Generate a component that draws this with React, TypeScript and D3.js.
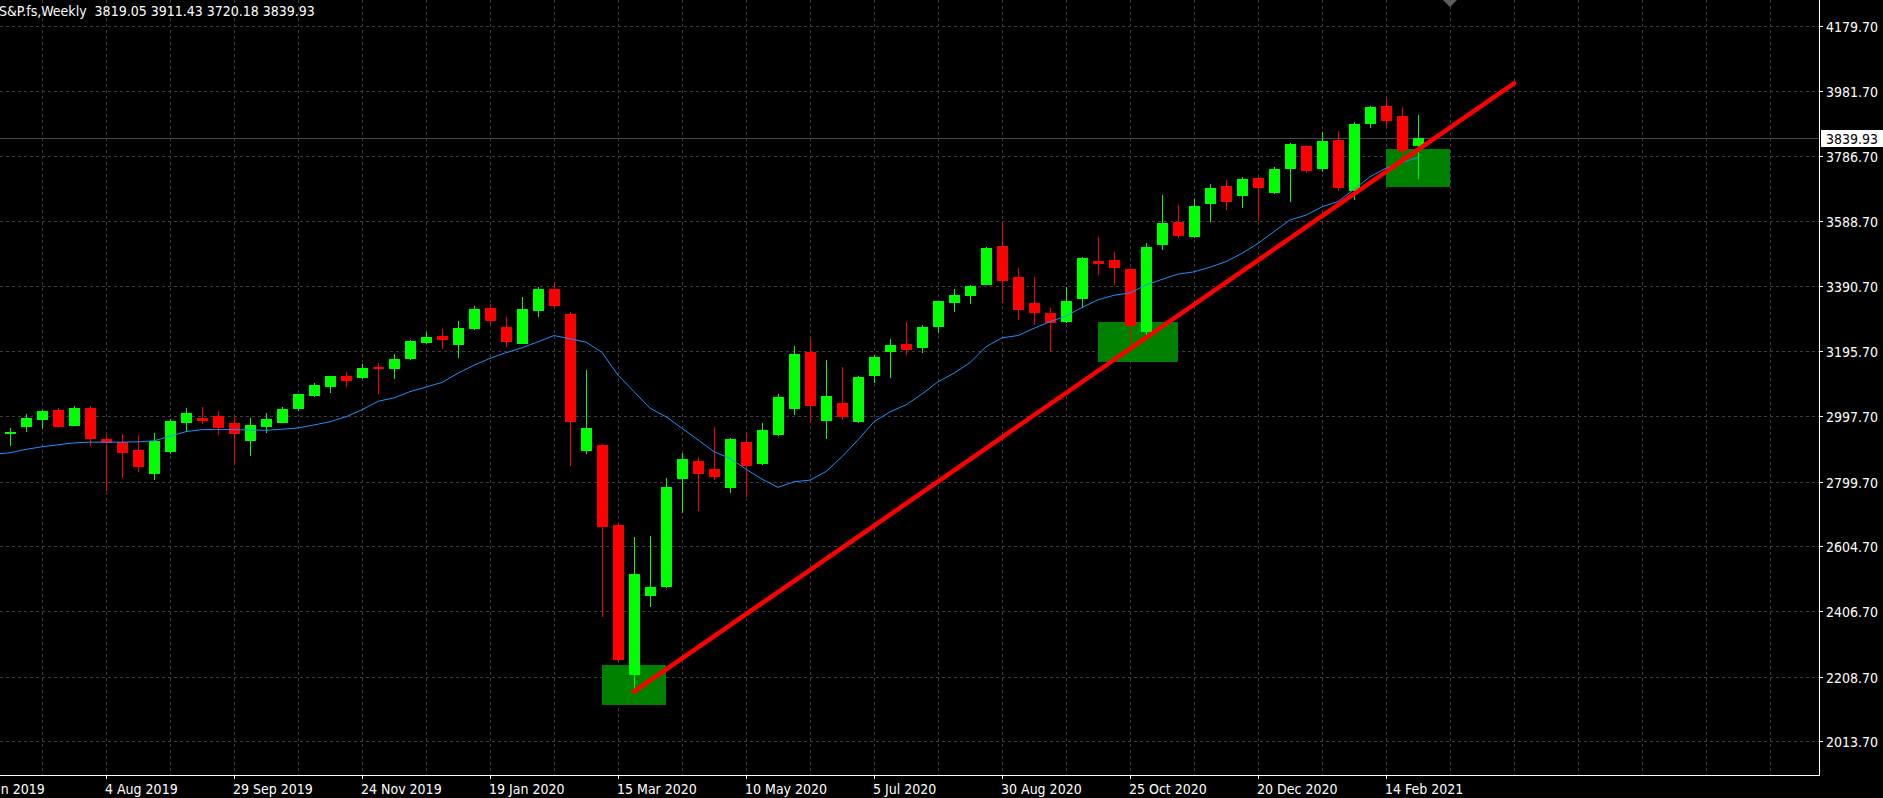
import React from "react";
import * as d3 from "d3";

// ---------- data ----------
const symbolTitle = "S&P.fs,Weekly";
const lastQuote = [3819.05, 3911.43, 3720.18, 3839.93]; // O H L C of the last bar

const firstWeek = "23 Jun 2019";
const lastWeek = "28 Feb 2021";

const opens = [
  2948, 2969, 2989, 3016, 2972, 3022, 2929, 2920, 2895, 2826,
  2892, 2981, 2992, 2998, 2977, 2926, 2968, 2980, 3022, 3062,
  3089, 3119, 3116, 3147, 3144, 3174, 3222, 3241, 3216, 3265,
  3325, 3268, 3219, 3319, 3383, 3308, 2895, 2910, 2668, 2217,
  2456, 2482, 2811, 2862, 2838, 2783, 2920, 2856, 2944, 3022,
  3193, 2986, 3038, 2983, 3122, 3195, 3216, 3207, 3271, 3344,
  3365, 3398, 3513, 3419, 3341, 3310, 3286, 3356, 3468, 3471,
  3444, 3256, 3519, 3586, 3544, 3643, 3695, 3668, 3719, 3677,
  3750, 3816, 3750, 3834, 3683, 3886, 3937, 3907, 3819.05,
];
const highs = [
  2962, 3004, 3016, 3022, 3028, 3029, 2941, 2944, 2941, 2947,
  2989, 3022, 3025, 3013, 2995, 2992, 3007, 3025, 3066, 3098,
  3120, 3132, 3156, 3159, 3186, 3228, 3253, 3262, 3286, 3331,
  3338, 3298, 3359, 3389, 3400, 3312, 3138, 2912, 2670, 2632,
  2635, 2810, 2886, 2874, 2965, 2932, 2947, 2977, 3065, 3210,
  3232, 3168, 3147, 3118, 3183, 3232, 3283, 3274, 3348, 3383,
  3395, 3510, 3586, 3447, 3419, 3325, 3389, 3480, 3540, 3495,
  3445, 3522, 3668, 3637, 3656, 3701, 3713, 3722, 3721, 3753,
  3825, 3819, 3859, 3862, 3889, 3936, 3958, 3934, 3911.43,
];
const lows = [
  2910, 2953, 2963, 2966, 2970, 2911, 2774, 2814, 2833, 2808,
  2887, 2953, 2977, 2945, 2854, 2880, 2950, 2979, 3016, 3059,
  3071, 3089, 3113, 3068, 3113, 3171, 3219, 3204, 3177, 3262,
  3277, 3210, 3218, 3301, 3327, 2850, 2887, 2393, 2257, 2161,
  2424, 2480, 2708, 2714, 2807, 2769, 2755, 2854, 2942, 3004,
  2980, 2932, 2989, 2980, 3101, 3116, 3186, 3192, 3253, 3316,
  3341, 3397, 3344, 3292, 3277, 3195, 3284, 3328, 3428, 3398,
  3222, 3241, 3504, 3540, 3542, 3589, 3625, 3631, 3592, 3675,
  3650, 3737, 3740, 3683, 3656, 3874, 3877, 3783, 3720.18,
];
const closes = [
  2951, 2992, 3013, 2969, 3022, 2932, 2920, 2890, 2848, 2922,
  2983, 3007, 2987, 2965, 2947, 2971, 2989, 3019, 3065, 3092,
  3119, 3107, 3144, 3144, 3171, 3225, 3238, 3232, 3265, 3322,
  3289, 3225, 3322, 3383, 3334, 2984, 2962, 2666, 2262, 2520,
  2481, 2783, 2868, 2826, 2817, 2929, 2850, 2956, 3056, 3186,
  3032, 3059, 2998, 3116, 3177, 3213, 3201, 3268, 3347, 3365,
  3392, 3507, 3410, 3322, 3313, 3283, 3347, 3477, 3462, 3450,
  3274, 3510, 3583, 3547, 3634, 3689, 3650, 3716, 3692, 3746,
  3822, 3743, 3831, 3692, 3883, 3934, 3895, 3804, 3839.93,
];

// moving average, starting one week before the first visible bar (16 Jun 2019)
const maFirstWeek = "16 Jun 2019";
const maValues = [
  2882, 2887, 2897, 2905, 2911, 2917, 2919, 2919, 2919, 2920,
  2923, 2937, 2951, 2957, 2957, 2957, 2956, 2955, 2958, 2962,
  2971, 2981, 2996, 3017, 3043, 3053, 3072, 3086, 3100, 3128,
  3152, 3173, 3190, 3205, 3223, 3242, 3232, 3222, 3191, 3122,
  3072, 3022, 2996, 2961, 2926, 2890, 2870, 2837, 2807, 2782,
  2799, 2804, 2830, 2875, 2926, 2981, 3011, 3032, 3065, 3102,
  3128, 3160, 3208, 3235, 3242, 3264, 3284, 3301, 3327, 3350,
  3364, 3371, 3395, 3412, 3428, 3435, 3449, 3466, 3491, 3521,
  3557, 3592, 3607, 3632, 3648, 3685, 3723, 3749, 3766, 3782,
];

const priceTicks = [4179.7, 3981.7, 3786.7, 3588.7, 3390.7, 3195.7, 2997.7, 2799.7, 2604.7, 2406.7, 2208.7, 2013.7];
const timeTickLabels = [
  "9 Jun 2019", "4 Aug 2019", "29 Sep 2019", "24 Nov 2019", "19 Jan 2020", "15 Mar 2020",
  "10 May 2020", "5 Jul 2020", "30 Aug 2020", "25 Oct 2020", "20 Dec 2020", "14 Feb 2021",
];

// drawn objects (date, price)
const trendStart = { date: "22 Mar 2020", price: 2163 };
const trendEnd = { date: "11 Apr 2021", price: 4006 };
const zoneStarts = ["8 Mar 2020", "11 Oct 2020", "14 Feb 2021"];
const zoneEnds = ["5 Apr 2020", "15 Nov 2020", "14 Mar 2021"];
const zoneTops = [2244, 3283, 3807];
const zoneBottoms = [2123, 3162, 3692];

// ---------- chart ----------
const W = 1883;
const H = 798;
const PR = 1819; // right edge of plot (price axis)
const PB = 775; // bottom edge of plot (time axis)
const FONT = "'DejaVu Sans Condensed', 'DejaVu Sans', sans-serif";

const parse = d3.utcParse("%d %b %Y");
const P = (s: string) => parse(s) as Date;

export default function App() {
  const weeks = d3.utcSunday.range(P(firstWeek), d3.utcDay.offset(P(lastWeek), 1));
  const maWeeks = d3.utcSunday.range(P(maFirstWeek), d3.utcDay.offset(P(lastWeek), 1));

  const x = d3.scaleUtc().domain([P(firstWeek), P(lastWeek)]).range([10, 1418]);
  const y = d3.scaleLinear().domain([2013.7, 4179.7]).range([741, 26]);

  const gridDates = d3.utcSunday
    .range(P("7 Jul 2019"), x.invert(PR))
    .filter((_, i) => i % 4 === 0);

  const maLine = d3
    .line<number>()
    .x((_, i) => x(maWeeks[i]))
    .y((v) => y(v));

  const lastClose = lastQuote[3];
  const yLast = Math.round(y(lastClose));

  return (
    <div style={{ position: "fixed", left: 0, top: 0, width: W, height: H, background: "#000" }}>
      <svg width={W} height={H} style={{ display: "block" }} fontFamily={FONT}>
        <defs>
          <clipPath id="plot">
            <rect x={0} y={0} width={PR} height={PB} />
          </clipPath>
        </defs>
        <rect x={0} y={0} width={W} height={H} fill="#000" />

        {/* grid */}
        <g shapeRendering="crispEdges" stroke="#3d3d3d" strokeDasharray="3,3">
          {priceTicks.map((p) => (
            <line key={"h" + p} x1={0} x2={PR} y1={Math.round(y(p)) + 0.5} y2={Math.round(y(p)) + 0.5} />
          ))}
          {gridDates.map((d) => (
            <line key={"v" + +d} x1={Math.round(x(d)) + 0.5} x2={Math.round(x(d)) + 0.5} y1={0} y2={PB} />
          ))}
        </g>

        <g clipPath="url(#plot)">
          {/* highlight zones */}
          <g shapeRendering="crispEdges">
            {zoneStarts.map((s, i) => {
              const x0 = Math.round(x(P(s)));
              const x1 = Math.round(x(P(zoneEnds[i])));
              const y0 = Math.round(y(zoneTops[i]));
              const y1 = Math.round(y(zoneBottoms[i]));
              return <rect key={s} x={x0} y={y0} width={x1 - x0} height={y1 - y0} fill="#008000" />;
            })}
          </g>

          {/* current price line */}
          <line x1={0} x2={PR} y1={yLast + 0.5} y2={yLast + 0.5} stroke="#4a4a4a" shapeRendering="crispEdges" />

          {/* candles */}
          <g shapeRendering="crispEdges">
            {weeks.map((d, i) => {
              const cx = Math.round(x(d));
              const o = opens[i];
              const c = closes[i];
              const up = c >= o;
              const col = up ? "#00ff00" : "#ff0000";
              const yh = Math.round(y(highs[i]));
              const yl = Math.round(y(lows[i]));
              const yt = Math.round(y(Math.max(o, c)));
              const yb = Math.round(y(Math.min(o, c)));
              return (
                <g key={+d} fill={col}>
                  <rect x={cx} y={yh} width={1} height={Math.max(1, yl - yh + 1)} />
                  <rect x={cx - 5} y={yt} width={11} height={Math.max(1, yb - yt + 1)} />
                </g>
              );
            })}
          </g>

          {/* moving average */}
          <path d={maLine(maValues) || ""} fill="none" stroke="#1e90ff" strokeWidth={1} />

          {/* trend line */}
          <line
            x1={x(P(trendStart.date))}
            y1={y(trendStart.price)}
            x2={x(P(trendEnd.date))}
            y2={y(trendEnd.price)}
            stroke="#ff0000"
            strokeWidth={4.5}
            strokeLinecap="round"
          />
        </g>

        {/* shift marker */}
        <polygon points="1443,0 1457,0 1450,7" fill="#5e5e5e" />

        {/* axes */}
        <g shapeRendering="crispEdges" stroke="#ffffff">
          <line x1={PR + 0.5} x2={PR + 0.5} y1={0} y2={PB + 1} />
          <line x1={0} x2={PR + 1} y1={PB + 0.5} y2={PB + 0.5} />
          {priceTicks.map((p) => (
            <line key={"pt" + p} x1={PR + 1} x2={PR + 4} y1={Math.round(y(p)) + 0.5} y2={Math.round(y(p)) + 0.5} />
          ))}
          {timeTickLabels.map((t) => (
            <line key={"tt" + t} x1={Math.round(x(P(t))) + 0.5} x2={Math.round(x(P(t))) + 0.5} y1={PB + 1} y2={PB + 4} />
          ))}
        </g>

        {/* price labels */}
        <g fill="#ffffff" fontSize={14}>
          {priceTicks.map((p) => (
            <text key={"pl" + p} x={1826} y={Math.round(y(p)) + 6}>
              {p.toFixed(2)}
            </text>
          ))}
        </g>
        {/* time labels */}
        <g fill="#ffffff" fontSize={14}>
          {timeTickLabels.map((t) => (
            <text key={"tl" + t} x={Math.round(x(P(t))) - 1} y={794}>
              {t}
            </text>
          ))}
        </g>

        {/* current price tag */}
        <rect x={PR + 2} y={yLast - 8} width={W - PR - 2} height={17} fill="#ffffff" shapeRendering="crispEdges" />
        <text x={1826} y={yLast + 6} fill="#000000" fontSize={14}>
          {lastClose.toFixed(2)}
        </text>

        {/* title */}
        <text x={-1} y={16} fill="#ffffff" fontSize={14} xmlSpace="preserve">
          {symbolTitle + "  " + lastQuote.map((v) => v.toFixed(2)).join(" ")}
        </text>
      </svg>
    </div>
  );
}
